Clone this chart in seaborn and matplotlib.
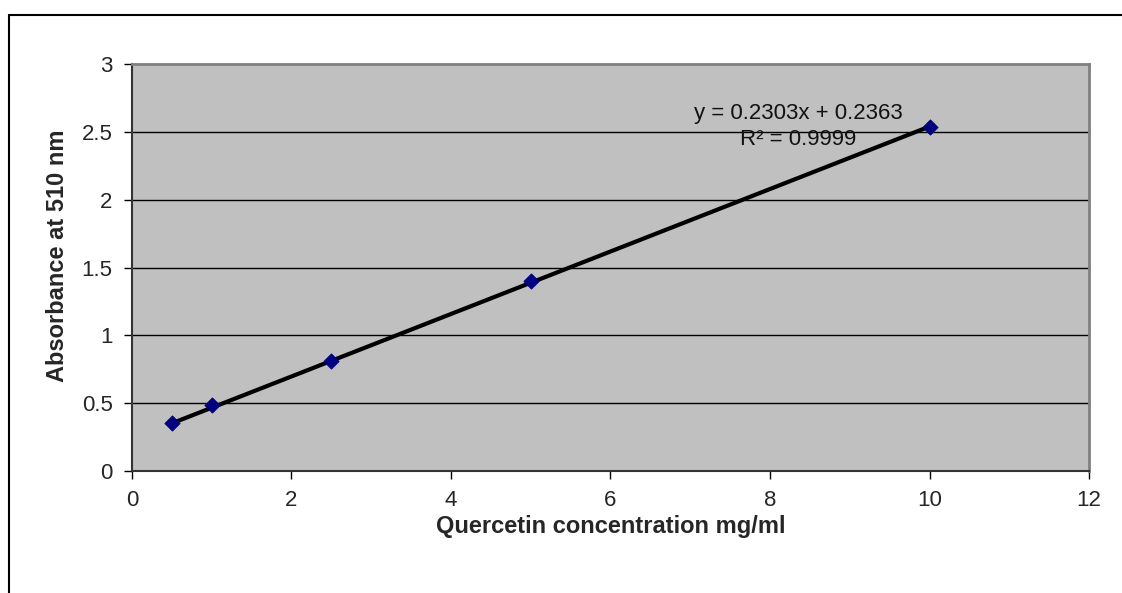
import matplotlib
matplotlib.use("Agg")
import matplotlib.pyplot as plt
import seaborn as sns
import numpy as np
import pandas as pd

# Data
concentration = [0.5, 1.0, 2.5, 5.0, 10.0]
absorbance = [0.354, 0.486, 0.808, 1.398, 2.533]
slope = 0.2303
intercept = 0.2363
equation_text = "y = 0.2303x + 0.2363"
r2_text = "R² = 0.9999"
x_ticks = [0, 2, 4, 6, 8, 10, 12]
y_ticks = [0, 0.5, 1, 1.5, 2, 2.5, 3]
y_tick_labels = ["0", "0.5", "1", "1.5", "2", "2.5", "3"]

sns.set_theme(style="white")
plt.rcParams['font.family'] = ['Liberation Sans', 'DejaVu Sans']

fig = plt.figure(figsize=(11.22, 5.93), dpi=100)
ax = fig.add_axes([0.1176, 0.2057, 0.853, 0.6863])
ax.set_facecolor("#C0C0C0")

df = pd.DataFrame({"x": concentration, "y": absorbance})
trend = pd.DataFrame({"x": [min(concentration), max(concentration)]})
trend["y"] = slope * trend["x"] + intercept

for yv in y_ticks[1:-1]:
    ax.axhline(yv, color="black", lw=1.0, zorder=1)

sns.lineplot(data=trend, x="x", y="y", ax=ax, color="black", lw=3, zorder=3)
sns.scatterplot(data=df, x="x", y="y", ax=ax, marker="D", s=60, color="#000080",
                edgecolor="#000080", zorder=4)

ax.set_xlim(0, 12)
ax.set_ylim(0, 3)
ax.set_xticks(x_ticks)
ax.set_yticks(y_ticks)
ax.set_xticklabels([str(t) for t in x_ticks], fontsize=16)
ax.set_yticklabels(y_tick_labels, fontsize=16)
ax.tick_params(axis="both", direction="out", length=6, width=1, color="black", pad=8)
ax.xaxis.set_ticks_position("bottom")
ax.yaxis.set_ticks_position("left")

for s in ["left", "bottom"]:
    ax.spines[s].set_color("#333333")
    ax.spines[s].set_linewidth(1.5)
for s in ["top", "right"]:
    ax.spines[s].set_color("#808080")
    ax.spines[s].set_linewidth(2)

ax.set_xlabel("Quercetin concentration mg/ml", fontsize=17, fontweight="bold")
ax.set_ylabel("Absorbance at 510 nm", fontsize=17, fontweight="bold")
ax.xaxis.set_label_coords(0.5, -0.108)
ax.yaxis.set_label_coords(-0.066, 0.53)

ax.text(8.35, 2.639, equation_text, ha="center", va="center", fontsize=16, color="#111111", zorder=5)
ax.text(8.35, 2.447, r2_text, ha="center", va="center", fontsize=16, color="#111111", zorder=5)

# outer chart border (top and left)
fig.add_artist(plt.Line2D([9/1122, 1.0], [1 - 15/593, 1 - 15/593], color="black", lw=1.5,
                          transform=fig.transFigure))
fig.add_artist(plt.Line2D([9/1122, 9/1122], [1 - 15/593, 0.0], color="black", lw=1.5,
                          transform=fig.transFigure))

fig.savefig("out.png", dpi=100)
